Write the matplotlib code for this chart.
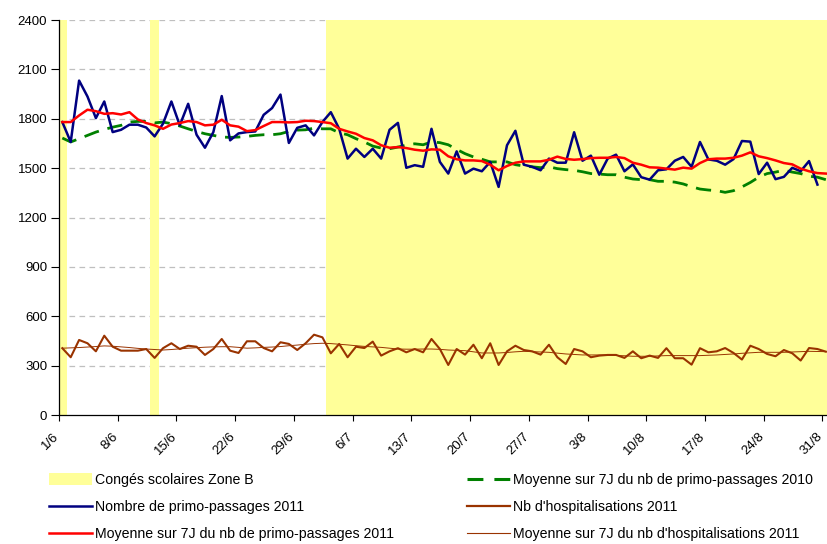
import matplotlib
matplotlib.use("Agg")
import matplotlib.pyplot as plt
import matplotlib.transforms as mtransforms
import numpy as np
from matplotlib.patches import Patch
from matplotlib.lines import Line2D

# Jours du 1/6 au 31/8 (index 0..91), étiquettes hebdomadaires
tick_days = [0, 7, 14, 21, 28, 35, 42, 49, 56, 63, 70, 77, 84, 91]
tick_labels = ["1/6", "8/6", "15/6", "22/6", "29/6", "6/7", "13/7",
               "20/7", "27/7", "3/8", "10/8", "17/8", "24/8", "31/8"]

# jours de congés scolaires zone B (index de jour)
conges_days = [0, 11] + list(range(32, 92))

primo_2011 = [
    1780, 1659, 2032, 1935, 1804, 1905, 1719, 1733, 1764, 1764,
    1747, 1693, 1770, 1905, 1760, 1891, 1703, 1624, 1719, 1938,
    1669, 1711, 1719, 1723, 1824, 1865, 1947, 1653, 1745, 1760,
    1699, 1780, 1840, 1739, 1558, 1618, 1568, 1618, 1558, 1733,
    1775, 1502, 1518, 1508, 1739, 1538, 1467, 1602, 1467, 1497,
    1481, 1538, 1386, 1639, 1727, 1521, 1508, 1487, 1558, 1533,
    1533, 1718, 1545, 1576, 1460, 1558, 1582, 1481, 1523, 1445,
    1430, 1487, 1493, 1545, 1568, 1508, 1659, 1553, 1545, 1521,
    1555, 1665, 1661, 1464, 1533, 1433, 1447, 1502, 1481, 1543,
    1400,
]

moy_primo_2011 = [
    1780, 1780, 1820, 1855, 1846, 1830, 1834, 1826, 1840, 1796,
    1774, 1760, 1739, 1765, 1774, 1786, 1780, 1760, 1764, 1794,
    1760, 1752, 1725, 1731, 1756, 1780, 1780, 1778, 1780, 1788,
    1786, 1780, 1773, 1739, 1723, 1709, 1683, 1669, 1639, 1624,
    1628, 1622, 1612, 1606, 1614, 1612, 1572, 1554, 1547, 1547,
    1543, 1521, 1487, 1513, 1533, 1541, 1541, 1541, 1551, 1570,
    1556, 1551, 1555, 1561, 1563, 1563, 1568, 1561, 1533, 1521,
    1505, 1503, 1497, 1491, 1503, 1497, 1531, 1554, 1558, 1558,
    1563, 1576, 1596, 1572, 1561, 1547, 1531, 1523, 1497, 1481,
    1470, 1467,
]

moy_primo_2010 = [
    1683, 1659, 1679, 1699, 1719, 1735, 1749, 1760, 1780, 1784,
    1784, 1775, 1780, 1770, 1756, 1739, 1723, 1709, 1699, 1689,
    1687, 1689, 1693, 1699, 1703, 1703, 1709, 1723, 1731, 1733,
    1743, 1739, 1739, 1715, 1703, 1679, 1659, 1634, 1622, 1618,
    1628, 1640, 1648, 1642, 1659, 1655, 1642, 1614, 1588, 1568,
    1554, 1538, 1538, 1538, 1521, 1513, 1508, 1503, 1508, 1497,
    1491, 1487, 1478, 1467, 1464, 1460, 1460, 1445, 1434, 1430,
    1430, 1420, 1420, 1415, 1404, 1387, 1373, 1367, 1363, 1353,
    1363, 1386, 1413, 1445, 1467, 1476, 1487, 1476, 1467, 1451,
    1445, 1430,
]

hospit_2011 = [
    406, 351, 456, 436, 387, 482, 415, 391, 391, 391,
    401, 347, 406, 436, 401, 421, 415, 365, 401, 462,
    391, 377, 448, 448, 407, 387, 442, 432, 395, 436,
    488, 472, 375, 432, 351, 415, 407, 446, 361, 387,
    406, 381, 401, 381, 462, 401, 304, 401, 367, 427,
    345, 436, 304, 387, 421, 395, 387, 367, 427, 351,
    310, 401, 387, 351, 361, 365, 365, 347, 387, 345,
    361, 347, 406, 345, 345, 306, 406, 381, 387, 407,
    377, 337, 421, 401, 371, 357, 395, 375, 331, 407,
    401, 385,
]

moy_hospit_2011 = [
    406, 408, 410, 413, 416, 420, 418, 414, 410, 405,
    401, 398, 395, 398, 402, 406, 409, 412, 414, 415,
    415, 411, 406, 408, 411, 413, 416, 421, 425, 430,
    434, 436, 434, 430, 426, 421, 417, 414, 411, 406,
    401, 400, 400, 401, 401, 399, 395, 393, 391, 384,
    377, 377, 377, 380, 384, 387, 385, 383, 381, 376,
    371, 368, 365, 365, 365, 365, 362, 360, 357, 357,
    357, 359, 361, 361, 361, 361, 361, 363, 365, 368,
    371, 375, 378, 381, 381, 381, 381, 383, 385, 387,
    386, 385,
]

YELLOW = "#FFFF99"
NAVY = "#000080"
RED = "#FF0000"
GREEN = "#008000"
BROWN = "#993300"
GREEN_DASH = (5.5, 3.2)

plt.rcParams["font.family"] = ["Liberation Sans", "DejaVu Sans"]

fig = plt.figure(figsize=(8.27, 5.44), dpi=100)
ax = fig.add_axes([0.0713, 0.2371, 0.9283, 0.7261])

# points placés au milieu de chaque jour
def xpos(n):
    return np.arange(n) + 0.4

ymax = 2400
ax.bar(np.array(conges_days) + 0.4, ymax, width=1.1, color=YELLOW,
       edgecolor="none", zorder=1)

for y in range(300, 2401, 300):
    ax.axhline(y, color="#BFBFBF", lw=0.9, dashes=(4.5, 3.5), zorder=0.5)

ax.plot(xpos(len(moy_primo_2010)), moy_primo_2010, color=GREEN, lw=2.0,
        dashes=GREEN_DASH, zorder=3)
ax.plot(xpos(len(primo_2011)), primo_2011, color=NAVY, lw=1.8, zorder=4)
ax.plot(xpos(len(moy_primo_2011)), moy_primo_2011, color=RED, lw=1.8, zorder=5)
ax.plot(xpos(len(hospit_2011)), hospit_2011, color=BROWN, lw=1.5, zorder=4)
ax.plot(xpos(len(moy_hospit_2011)), moy_hospit_2011, color=BROWN, lw=0.7, zorder=5)

ax.set_xlim(0, 91.5)
ax.set_ylim(0, ymax)
ax.set_yticks(range(0, 2401, 300))
ax.set_xticks(tick_days)
ax.set_xticklabels(tick_labels, rotation=45, ha="right", rotation_mode="anchor")
ax.tick_params(axis="both", labelsize=9.5, direction="out", width=0.8,
               colors="black")
ax.tick_params(axis="x", length=4, pad=3)
ax.tick_params(axis="y", length=6, pad=2.5)

# décalage des dates vers le bas-gauche
shift = mtransforms.ScaledTranslation(-0.06, -0.06, fig.dpi_scale_trans)
for lab in ax.get_xticklabels():
    lab.set_transform(lab.get_transform() + shift)

for side in ("top", "right"):
    ax.spines[side].set_visible(False)
for side in ("left", "bottom"):
    ax.spines[side].set_linewidth(0.9)
    ax.spines[side].set_zorder(6)

left_handles = [
    Patch(facecolor=YELLOW, edgecolor="none"),
    Line2D([], [], color=NAVY, lw=1.8),
    Line2D([], [], color=RED, lw=1.8),
]
left_labels = ["Congés scolaires Zone B", "Nombre de primo-passages 2011",
               "Moyenne sur 7J du nb de primo-passages 2011"]
right_handles = [
    Line2D([], [], color=GREEN, lw=2.2, dashes=(5.2, 3.6)),
    Line2D([], [], color=BROWN, lw=1.6),
    Line2D([], [], color=BROWN, lw=0.8),
]
right_labels = ["Moyenne sur 7J du nb de primo-passages 2010",
                "Nb d'hospitalisations 2011",
                "Moyenne sur 7J du nb d'hospitalisations 2011"]

leg_kw = dict(loc="upper left", frameon=False, fontsize=10.2, borderpad=0,
              borderaxespad=0, handlelength=3.0, handletextpad=0.25,
              labelspacing=0.92, handleheight=0.9)
fig.legend(left_handles, left_labels, bbox_to_anchor=(49 / 827, 1 - 473 / 544), **leg_kw)
fig.legend(right_handles, right_labels, bbox_to_anchor=(467 / 827, 1 - 473 / 544), **leg_kw)

fig.savefig("out.png", dpi=100)
